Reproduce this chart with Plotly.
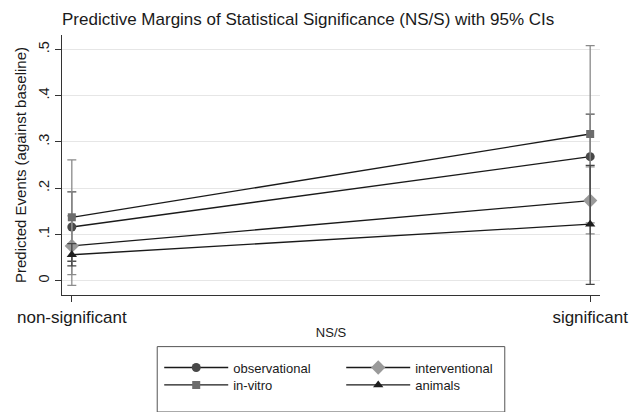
import plotly.graph_objects as go

categories = ["non-significant", "significant"]
series = ["observational", "interventional", "in-vitro", "animals"]
values = {
    "observational": [0.116, 0.268],
    "interventional": [0.075, 0.173],
    "in-vitro": [0.137, 0.317],
    "animals": [0.056, 0.122],
}
ci_low = {
    "observational": [0.042, 0.176],
    "interventional": [-0.010, 0.101],
    "in-vitro": [0.013, 0.125],
    "animals": [0.032, -0.008],
}
ci_high = {
    "observational": [0.192, 0.360],
    "interventional": [0.140, 0.246],
    "in-vitro": [0.261, 0.508],
    "animals": [0.080, 0.249],
}
marker_style = {
    "observational": ("circle", "#484848", 9),
    "interventional": ("diamond", "#9a9a9a", 11),
    "in-vitro": ("square", "#6c6c6c", 8),
    "animals": ("triangle-up", "#1e1e1e", 9),
}
err_color = {
    "observational": "#505050",
    "interventional": "#8c8c8c",
    "in-vitro": "#8a8a8a",
    "animals": "#444444",
}
legend_of = {"observational": "legend", "interventional": "legend",
             "in-vitro": "legend2", "animals": "legend2"}

xpos = [0, 1]
fig = go.Figure()
for s in series:
    sym, col, sz = marker_style[s]
    v = values[s]
    fig.add_trace(go.Scatter(
        x=xpos, y=v, name=s, mode="lines+markers", legend=legend_of[s],
        line=dict(color="#1a1a1a", width=1.3),
        marker=dict(symbol=sym, color=col, size=sz),
        error_y=dict(type="data", symmetric=False,
                     array=[h - m for h, m in zip(ci_high[s], v)],
                     arrayminus=[m - l for m, l in zip(v, ci_low[s])],
                     color=err_color[s], thickness=1.3, width=4.5),
    ))

leg_common = dict(orientation="h", xanchor="left", yanchor="middle",
                  entrywidth=103, entrywidthmode="pixels", itemwidth=64,
                  borderwidth=0, bgcolor="rgba(0,0,0,0)",
                  font=dict(size=13, color="#1a1a1a", family="Liberation Sans, Arial, sans-serif"))

fig.update_layout(
    width=640, height=412,
    margin=dict(l=62, r=30, t=35, b=105),
    paper_bgcolor="white", plot_bgcolor="white",
    font=dict(family="Liberation Sans, Arial, sans-serif", color="#1a1a1a"),
    title=dict(text="Predictive Margins of Statistical Significance (NS/S) with 95% CIs",
               xref="paper", x=0, xanchor="left", y=0.954, yanchor="middle",
               font=dict(size=17, color="#1a1a1a")),
    showlegend=True,
    legend=dict(x=0.1807, y=-0.279, **leg_common),
    legend2=dict(x=0.1807, y=-0.346, **leg_common),
    shapes=[dict(type="rect", xref="paper", yref="paper",
                 x0=0.177, x1=0.823, y0=-0.1985, y1=-0.45,
                 line=dict(color="#555555", width=1), fillcolor="rgba(0,0,0,0)")],
)
fig.update_xaxes(
    range=[-10 / 528, 1 + 10 / 528], tickvals=xpos, ticktext=categories,
    showgrid=False, zeroline=False, showline=True, linecolor="#333333", linewidth=1.3,
    ticks="outside", ticklen=6, tickcolor="#333333",
    tickfont=dict(size=17, color="#1a1a1a"),
    title=dict(text="NS/S", font=dict(size=13, color="#1a1a1a"), standoff=2),
)
fig.update_yaxes(
    range=[-0.031, 0.531], tickvals=[0, 0.1, 0.2, 0.3, 0.4, 0.5],
    ticktext=["0", ".1", ".2", ".3", ".4", ".5"], tickangle=-90,
    showgrid=True, gridcolor="#e6e6e6", gridwidth=1.3, zeroline=False,
    showline=True, linecolor="#333333", linewidth=1.3,
    ticks="outside", ticklen=6, tickcolor="#333333",
    tickfont=dict(size=14.5, color="#1a1a1a"),
    title=dict(text="Predicted Events (against baseline)", font=dict(size=15, color="#1a1a1a"), standoff=5),
)
fig.write_html("out.html", config={"displayModeBar": False},
               post_script="document.body.style.margin='0';document.body.style.overflow='hidden';")
